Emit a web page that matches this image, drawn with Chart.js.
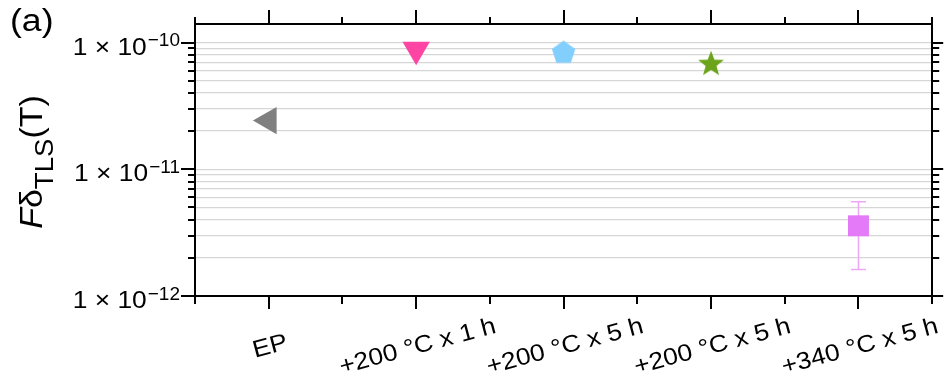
<!DOCTYPE html>
<html>
<head>
<meta charset="utf-8">
<script src="https://cdn.jsdelivr.net/npm/chart.js@4.4.1/dist/chart.umd.min.js"></script>
<style>
  html, body { margin: 0; padding: 0; background: #ffffff; }
  #wrap { width: 948px; height: 377px; }
</style>
</head>
<body>
<div id="wrap"><canvas id="c" width="948" height="377"></canvas></div>
<script>
// Samples and their TLS loss values (log scale)
const categories = ['EP', '+200 °C x 1 h', '+200 °C x 5 h', '+200 °C x 5 h', '+340 °C x 5 h'];
const values     = [2.42e-11, 8.8e-11, 8.3e-11, 6.75e-11, 3.58e-12];
const errLow     = [null, null, null, null, 1.62e-12];
const errHigh    = [null, null, null, null, 5.55e-12];
const colors     = ['#808080', '#ff45a3', '#82cefd', '#6ba41b', '#e47af7'];
const errColor   = '#f0a6f8';

// Y axis: min / max and grid ticks (1..9 per decade)
const yMin = 1e-12;
const yMax = 1.4e-10;
const yTickValues = [
  1e-12, 2e-12, 3e-12, 4e-12, 5e-12, 6e-12, 7e-12, 8e-12, 9e-12,
  1e-11, 2e-11, 3e-11, 4e-11, 5e-11, 6e-11, 7e-11, 8e-11, 9e-11,
  1e-10
];
const yMajorValues = [1e-12, 1e-11, 1e-10];
const yTickBase = '1 × 10';
const yTickExponents = ['−12', '−11', '−10'];

const FONT = '"Liberation Sans", Arial, sans-serif';

// Filled polygon markers rendered to small canvases (used as point styles)
function polygonMarker(radius, color, nPoints, innerRatio) {
  const size = Math.ceil(radius * 2 + 4);
  const cv = document.createElement('canvas');
  cv.width = size; cv.height = size;
  const g = cv.getContext('2d');
  g.translate(size / 2, size / 2);
  g.beginPath();
  const steps = innerRatio ? nPoints * 2 : nPoints;
  for (let k = 0; k < steps; k++) {
    const r = innerRatio && (k % 2 === 1) ? radius * innerRatio : radius;
    const a = -Math.PI / 2 + k * 2 * Math.PI / steps;
    const px = r * Math.cos(a), py = r * Math.sin(a);
    if (k === 0) g.moveTo(px, py); else g.lineTo(px, py);
  }
  g.closePath();
  g.fillStyle = color;
  g.fill();
  return cv;
}

const pentagon = polygonMarker(12.3, colors[2], 5, 0);
const star = polygonMarker(13.6, colors[3], 5, 0.42);

const markerStyles = [
  { style: 'triangle', rotation: -90, radius: 15.8 },
  { style: 'triangle', rotation: 180, radius: 15.8 },
  { style: pentagon,   rotation: 0,   radius: 12.3 },
  { style: star,       rotation: 0,   radius: 13.6 },
  { style: 'rect',     rotation: 0,   radius: 14.8 }
];

const datasets = categories.map((name, i) => ({
  label: name,
  data: values.map((v, j) => (j === i ? v : null)),
  showLine: false,
  pointStyle: markerStyles[i].style,
  pointRotation: markerStyles[i].rotation,
  pointRadius: markerStyles[i].radius,
  pointHoverRadius: markerStyles[i].radius,
  pointBackgroundColor: colors[i],
  pointBorderColor: colors[i],
  pointBorderWidth: 0,
  clip: false
}));

// Error bars, drawn beneath the markers
const errorBars = {
  id: 'errorBars',
  beforeDatasetsDraw(chart) {
    const { ctx, scales: { x, y } } = chart;
    ctx.save();
    ctx.strokeStyle = errColor;
    ctx.lineWidth = 1.5;
    errLow.forEach((lo, i) => {
      if (lo === null) return;
      const px = x.getPixelForValue(i);
      const yl = y.getPixelForValue(lo);
      const yh = y.getPixelForValue(errHigh[i]);
      ctx.beginPath();
      ctx.moveTo(px, yl); ctx.lineTo(px, yh);
      ctx.moveTo(px - 7.5, yl); ctx.lineTo(px + 7.5, yl);
      ctx.moveTo(px - 7.5, yh); ctx.lineTo(px + 7.5, yh);
      ctx.stroke();
    });
    ctx.restore();
  }
};

// Outward tick marks on all four sides, plus axis labels and title
const frameDecor = {
  id: 'frameDecor',
  afterDraw(chart) {
    const { ctx, chartArea: a, scales: { x, y } } = chart;
    ctx.save();
    ctx.strokeStyle = '#000';
    ctx.lineWidth = 2;
    ctx.lineCap = 'butt';
    ctx.beginPath();
    // x: major ticks at categories, minor ticks halfway between
    for (let i = 0; i < categories.length; i++) {
      const px = Math.round(x.getPixelForValue(i));
      ctx.moveTo(px, a.bottom); ctx.lineTo(px, a.bottom + 13);
      ctx.moveTo(px, a.top); ctx.lineTo(px, a.top - 14);
    }
    for (let i = 0; i <= categories.length; i++) {
      const px = Math.round(x.getPixelForValue(i - 0.5));
      ctx.moveTo(px, a.bottom); ctx.lineTo(px, a.bottom + 8);
      ctx.moveTo(px, a.top); ctx.lineTo(px, a.top - 7);
    }
    // y: long ticks at decades, short ones in between
    yTickValues.forEach(v => {
      const py = Math.round(y.getPixelForValue(v));
      const major = yMajorValues.includes(v);
      ctx.moveTo(a.left, py); ctx.lineTo(a.left - (major ? 14 : 7), py);
      ctx.moveTo(a.right, py); ctx.lineTo(a.right + (major ? 11 : 7), py);
    });
    ctx.stroke();

    ctx.fillStyle = '#000';
    // y tick labels: 1 × 10^n
    yMajorValues.forEach((v, k) => {
      const py = y.getPixelForValue(v);
      ctx.textAlign = 'right';
      ctx.textBaseline = 'alphabetic';
      const expRight = a.left - 15;
      ctx.font = '19px ' + FONT;
      ctx.fillText(yTickExponents[k], expRight, py + 3.5);
      const expW = ctx.measureText(yTickExponents[k]).width;
      ctx.save();
      ctx.translate(expRight - expW - 1, py + 12);
      ctx.scale(1.1, 1);
      ctx.font = '24px ' + FONT;
      ctx.fillText(yTickBase, 0, 0);
      ctx.restore();
    });

    // x tick labels, rotated and centred under each tick
    ctx.font = '24px ' + FONT;
    ctx.textAlign = 'center';
    ctx.textBaseline = 'alphabetic';
    categories.forEach((lab, i) => {
      const px = x.getPixelForValue(i);
      ctx.save();
      ctx.translate(px + 1, 345);
      ctx.rotate(-15 * Math.PI / 180);
      ctx.scale(1.1, 1);
      ctx.fillText(lab, 0, 8.6);
      ctx.restore();
    });

    // y axis title: F δ_TLS (T)
    ctx.save();
    ctx.translate(42, 162);
    ctx.rotate(-Math.PI / 2);
    ctx.textAlign = 'left';
    const parts = [
      { t: 'F', f: 'italic 32px ' + FONT, dy: 0 },
      { t: 'δ', f: '32px ' + FONT, dy: 0 },
      { t: 'TLS', f: '26px ' + FONT, dy: 11 },
      { t: '(T)', f: '32px ' + FONT, dy: 0 }
    ];
    ctx.scale(1.06, 1);
    let total = 0;
    parts.forEach(p => { ctx.font = p.f; p.w = ctx.measureText(p.t).width; total += p.w; });
    let cx = -total / 2;
    parts.forEach(p => { ctx.font = p.f; ctx.fillText(p.t, cx, p.dy); cx += p.w; });
    ctx.restore();

    // panel label
    ctx.save();
    ctx.translate(10, 31);
    ctx.scale(1.15, 1);
    ctx.font = '31px ' + FONT;
    ctx.textAlign = 'left';
    ctx.fillText('(a)', 0, 0);
    ctx.restore();
    ctx.restore();
  }
};

const axisBorder = { display: true, color: '#000', width: 2 };

new Chart(document.getElementById('c'), {
  type: 'line',
  data: { labels: categories, datasets },
  options: {
    responsive: false,
    animation: false,
    devicePixelRatio: 1,
    events: [],
    layout: { padding: { left: 195, right: 11, top: 24, bottom: 81 } },
    plugins: { legend: { display: false }, tooltip: { enabled: false } },
    scales: {
      x: {
        type: 'category', position: 'bottom', offset: true,
        grid: { display: false, drawTicks: false },
        ticks: { display: false },
        border: axisBorder
      },
      xTop: {
        type: 'category', position: 'top', offset: true,
        grid: { display: false, drawTicks: false },
        ticks: { display: false },
        border: axisBorder
      },
      y: {
        type: 'logarithmic', position: 'left', min: yMin, max: yMax,
        afterBuildTicks: s => { s.ticks = yTickValues.map(v => ({ value: v })); },
        grid: { color: '#d6d6d6', lineWidth: 1.3, drawTicks: false },
        ticks: { display: false },
        border: axisBorder
      },
      yRight: {
        type: 'logarithmic', position: 'right', min: yMin, max: yMax,
        grid: { display: false, drawTicks: false },
        ticks: { display: false },
        border: axisBorder
      }
    }
  },
  plugins: [errorBars, frameDecor]
});
</script>
</body>
</html>
